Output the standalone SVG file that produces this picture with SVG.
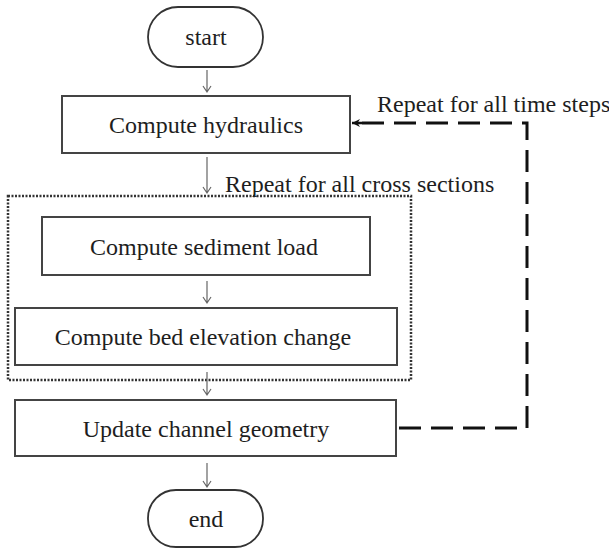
<svg xmlns="http://www.w3.org/2000/svg" width="609" height="549" viewBox="0 0 609 549">
<defs>
<style>
text{font-family:"Liberation Serif","Times New Roman",serif;font-size:24px;fill:#1e1e1e;text-anchor:middle}
.box{fill:#fff;stroke:#444;stroke-width:2}
.term{fill:#fff;stroke:#333;stroke-width:1.8}
.arr{fill:none;stroke:#666;stroke-width:1.2}
.dash{fill:none;stroke:#111;stroke-width:3;stroke-dasharray:22 10}
.dot{fill:none;stroke:#333;stroke-width:2.5;stroke-dasharray:2 1.5}
.lbl{text-anchor:start}
</style>
<marker id="ah" markerWidth="10" markerHeight="10" refX="9" refY="5" orient="auto" markerUnits="userSpaceOnUse">
<path d="M1,1 L9,5 L1,9 L3.5,5 Z" fill="#111"/>
</marker>
</defs>
<rect width="609" height="549" fill="#fff"/>

<g id="loop-region">
<rect class="dot" x="8" y="196" width="403" height="184"/>
<text class="lbl" x="225" y="192">Repeat for all cross sections</text>
</g>

<g id="start">
<rect class="term" x="148" y="7" width="115" height="60" rx="30" ry="30"/>
<text x="206" y="45">start</text>
</g>

<g id="hydraulics">
<rect class="box" x="62" y="96" width="288" height="57"/>
<text x="206" y="133">Compute hydraulics</text>
</g>

<g id="sediment">
<rect class="box" x="42" y="217" width="328" height="58"/>
<text x="204" y="255">Compute sediment load</text>
</g>

<g id="bed">
<rect class="box" x="15" y="308" width="382" height="57"/>
<text x="203" y="345">Compute bed elevation change</text>
</g>

<g id="update">
<rect class="box" x="15" y="400" width="381" height="56"/>
<text x="206" y="437">Update channel geometry</text>
</g>

<g id="end">
<rect class="term" x="148" y="490" width="115" height="57" rx="28" ry="28"/>
<text x="206" y="527">end</text>
</g>

<g id="connectors">
<path class="arr" d="M207,70 V92 M203,86 L207,92 L211,86"/>
<path class="arr" d="M207,157 V193 M203,187 L207,193 L211,187"/>
<path class="arr" d="M207,281 V303 M203,297 L207,303 L211,297"/>
<path class="arr" d="M207,372 V395 M203,389 L207,395 L211,389"/>
<path class="arr" d="M207,463 V487 M203,481 L207,487 L211,481"/>
<path class="dash" d="M397,428 H527 V123 H360" stroke-dashoffset="-2"/>
<path d="M362,123 H352" stroke="#111" stroke-width="2.5" marker-end="url(#ah)"/>
<text class="lbl" x="377" y="112">Repeat for all time steps</text>
</g>
</svg>
